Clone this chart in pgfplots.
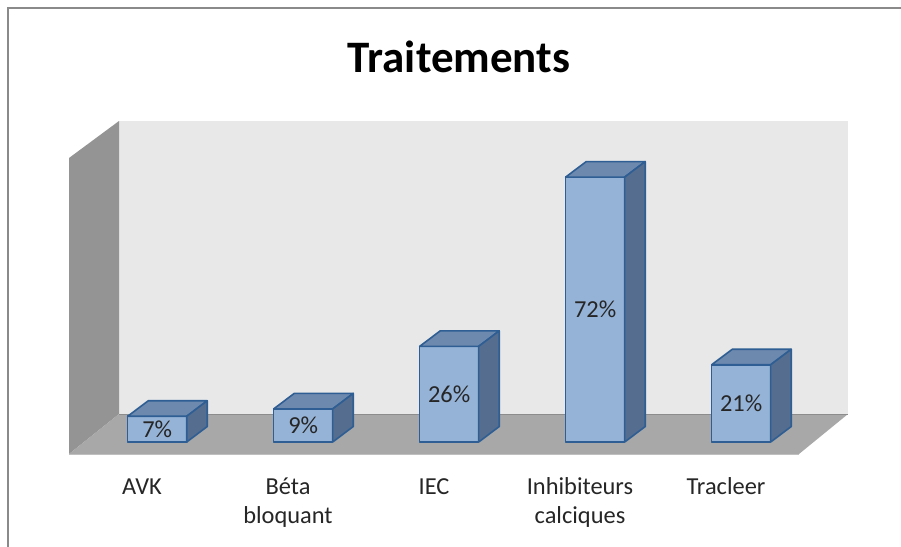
\documentclass[border=0pt]{standalone}
\usepackage{pgfplots}
\pgfplotsset{compat=1.18}
\usepackage{pgfplotstable}
\usepackage{fontspec}
\setmainfont{Carlito}
\definecolor{wallback}{HTML}{E8E8E8}
\definecolor{wallleft}{HTML}{949494}
\definecolor{floorc}{HTML}{A8A8A8}
\definecolor{barfront}{HTML}{95B3D7}
\definecolor{bartop}{HTML}{6D89AE}
\definecolor{barside}{HTML}{556D8E}
\definecolor{baredge}{HTML}{2E5E93}
\definecolor{framec}{HTML}{8A8A8A}
\pgfplotstableread{
x y
0 7
1 9
2 26
3 72
4 21
}\data
\def\bw{22.125pt}
\def\dx{15.4pt}
\def\dy{11.6pt}
\begin{document}
\begin{tikzpicture}
\begin{scope}[x=0.75pt,y=-0.75pt]
\path[use as bounding box] (0,0) rectangle (901,547);
\fill[white] (0,0) rectangle (901,547);
\fill[wallback] (119,121) rectangle (848,414);
\fill[wallleft] (69,158) -- (119,121) -- (119,414) -- (69,454) -- cycle;
\fill[floorc] (69,454) -- (119,414) -- (848,414) -- (799,454) -- cycle;
\draw[black!45, line width=0.6pt] (119,414) -- (848,414);
\draw[black!25, line width=1pt] (69,454.5) -- (799,454.5);
\draw[framec, line width=1.5pt] (8,547) -- (8,8) -- (901,8);
\node[font=\fontsize{33.75}{40}\selectfont\bfseries, anchor=base, inner sep=0pt] at (459,72) {Traitements};
\end{scope}
\begin{axis}[
  at={(63.15pt,-331.5pt)}, anchor=south west,
  scale only axis, width=547.5pt, height=220.8pt,
  xmin=-0.5, xmax=4.5, ymin=0, ymax=80,
  clip=false,
  axis line style={draw=none}, tick style={draw=none},
  major tick length=0pt,
  ytick=\empty,
  xtick={0,1,2,3,4},
  xticklabels={{\rule{0pt}{15pt}AVK},{\rule{0pt}{15pt}Béta\\bloquant},{\rule{0pt}{15pt}IEC},{\rule{0pt}{15pt}Inhibiteurs\\calciques},{\rule{0pt}{15pt}Tracleer}},
  xticklabel style={font=\fontsize{18.3}{21.75}\selectfont, align=center, anchor=north, inner sep=0pt, xshift=-11.4pt, yshift=-24pt, text=black!85},
]
\addplot[ybar, bar width=44.25pt, bar shift=0pt, fill=barfront, draw=baredge, line width=1.2pt, line join=round] table[x=x,y=y]{\data};
\pgfplotsinvokeforeach{0,...,4}{
  \pgfplotstablegetelem{#1}{y}\of\data
  \let\v\pgfplotsretval
  \edef\temp{
    \noexpand\filldraw[fill=bartop, draw=baredge, line width=1.2pt, line join=round]
      ([xshift=-\bw]axis cs:#1,\v) -- ([xshift=\bw]axis cs:#1,\v) -- ([xshift=\bw+\dx,yshift=\dy]axis cs:#1,\v) -- ([xshift=-\bw+\dx,yshift=\dy]axis cs:#1,\v) -- cycle;
    \noexpand\filldraw[fill=barside, draw=baredge, line width=1.2pt, line join=round]
      ([xshift=\bw]axis cs:#1,\v) -- ([xshift=\bw+\dx,yshift=\dy]axis cs:#1,\v) -- ([xshift=\bw+\dx,yshift=\dy]axis cs:#1,0) -- ([xshift=\bw]axis cs:#1,0) -- cycle;
    \noexpand\node[font=\noexpand\fontsize{18.3}{21.75}\noexpand\selectfont, text=black!85] at (axis cs:#1,\v/2) {\v\noexpand\%};
  }
  \temp
}
\end{axis}
\end{tikzpicture}
\end{document}
